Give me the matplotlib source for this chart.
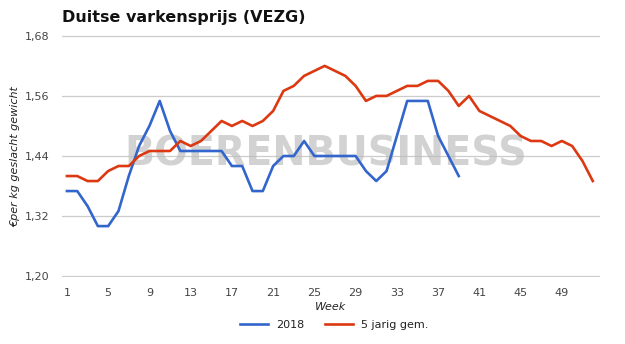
import numpy as np
import matplotlib.pyplot as plt

weeks_2018 = list(range(1, 40))
prices_2018 = [1.37, 1.37, 1.34, 1.30, 1.30, 1.33, 1.40, 1.46, 1.50, 1.55,
               1.49, 1.45, 1.45, 1.45, 1.45, 1.45, 1.42, 1.42, 1.37, 1.37,
               1.42, 1.44, 1.44, 1.47, 1.44, 1.44, 1.44, 1.44, 1.44, 1.41,
               1.39, 1.41, 1.48, 1.55, 1.55, 1.55, 1.48, 1.44, 1.40]

weeks_avg = list(range(1, 53))
prices_avg = [1.40, 1.40, 1.39, 1.39, 1.41, 1.42, 1.42, 1.44, 1.45, 1.45,
              1.45, 1.47, 1.46, 1.47, 1.49, 1.51, 1.50, 1.51, 1.50, 1.51,
              1.53, 1.57, 1.58, 1.60, 1.61, 1.62, 1.61, 1.60, 1.58, 1.55,
              1.56, 1.56, 1.57, 1.58, 1.58, 1.59, 1.59, 1.57, 1.54, 1.56,
              1.53, 1.52, 1.51, 1.50, 1.48, 1.47, 1.47, 1.46, 1.47, 1.46,
              1.43, 1.39]

y_ticks = [1.20, 1.32, 1.44, 1.56, 1.68]
x_ticks = list(range(1, 52, 4))

fig = plt.figure(figsize=(6.25, 3.44), dpi=100)
ax = fig.add_axes([0.099, 0.195, 0.861, 0.703])

# watermark
ax.text(0.49, 0.505, 'BOERENBUSINESS', transform=ax.transAxes, ha='center', va='center',
        fontsize=28.5, fontweight='heavy', color='#bbbbbb', alpha=0.65, zorder=1)

ax.plot(weeks_2018, prices_2018, color='#3366cc', lw=1.9, label='2018', zorder=3)
ax.plot(weeks_avg, prices_avg, color='#dc3912', lw=1.9, label='5 jarig gem.', zorder=3)

ax.set_xlim(0.51, 52.7)
ax.set_ylim(1.1985, 1.6815)
ax.set_yticks(y_ticks)
ax.set_yticklabels([f'{v:.2f}'.replace('.', ',') for v in y_ticks])
ax.set_xticks(x_ticks)
ax.grid(axis='y', color='#cccccc', lw=0.9)
ax.set_axisbelow(True)
for s in ax.spines.values():
    s.set_visible(False)
ax.tick_params(length=0, labelsize=8, colors='#444444', pad=8)
ax.tick_params(axis='y', pad=9)

ax.set_xlabel('Week', fontsize=8, style='italic', color='#222222', labelpad=3)
fig.text(0.025, 0.545, '€per kg geslacht gewicht', rotation=90, ha='center', va='center',
         fontsize=8, style='italic', color='#222222')
fig.text(0.099, 0.95, 'Duitse varkensprijs (VEZG)', fontsize=11.5, fontweight='bold',
         color='#111111', va='center')

fig.legend(loc='center', bbox_to_anchor=(0.535, 0.055), ncol=2, frameon=False,
           fontsize=8, handlelength=2.5, columnspacing=1.8, labelcolor='#222222')

fig.savefig('out.png', dpi=100)
